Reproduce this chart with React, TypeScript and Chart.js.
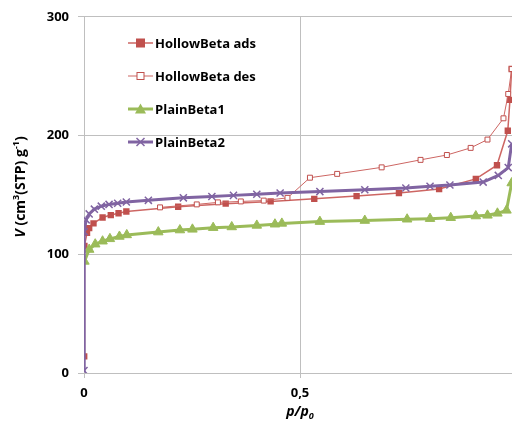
import React, { useEffect, useRef } from 'react';
import { Chart, registerables } from 'chart.js';

Chart.register(...registerables);

// p/p0 and V values
const adsP = [0.0005, 0.001, 0.007, 0.012, 0.022, 0.043, 0.062, 0.080, 0.098, 0.218, 0.328, 0.432, 0.533, 0.631, 0.729, 0.822, 0.907, 0.956, 0.981, 0.986, 0.990];
const adsV = [14, 107, 118, 122, 126, 131, 133, 134.5, 136, 140, 142.6, 144.5, 146.7, 149, 151.5, 155, 163.5, 175, 204, 230, 256];

const desP = [0.990, 0.982, 0.971, 0.934, 0.895, 0.840, 0.779, 0.689, 0.586, 0.523, 0.471, 0.416, 0.363, 0.310, 0.261, 0.176];
const desV = [256, 235, 214.5, 196.6, 189.6, 183.6, 179.5, 173.2, 167.7, 164.5, 147.5, 145.2, 144.5, 143.7, 142, 139.5];

const pb1P = [0.001, 0.012, 0.026, 0.043, 0.060, 0.082, 0.099, 0.172, 0.222, 0.251, 0.299, 0.342, 0.400, 0.442, 0.458, 0.546, 0.650, 0.748, 0.801, 0.849, 0.907, 0.934, 0.957, 0.978, 0.990];
const pb1V = [94, 104, 108.5, 111, 113, 115, 116.3, 118.7, 120.4, 121, 122.4, 123, 124.3, 125.3, 126, 127.5, 128.4, 129.5, 130, 130.8, 132.2, 132.8, 134.5, 137, 160];

const pb2P = [0.0, 0.0005, 0.005, 0.012, 0.024, 0.040, 0.058, 0.078, 0.098, 0.149, 0.230, 0.296, 0.346, 0.400, 0.454, 0.546, 0.650, 0.745, 0.801, 0.847, 0.924, 0.959, 0.982, 0.990];
const pb2V = [2, 119, 129, 134, 138, 140.5, 142, 143, 144, 145.4, 147.5, 148.7, 149.6, 150.5, 151.6, 152.8, 154.3, 155.8, 157.3, 158.3, 160.8, 166.4, 173, 193];

const seriesNames = ['HollowBeta ads', 'HollowBeta des', 'PlainBeta1', 'PlainBeta2'];
const xTickLabels: Record<string, string> = { '0': '0', '0.5': '0,5', '1': '1' };

const RED = '#C0504D';
const RED_LINE = '#CD6663';
const GREEN = '#9BBB59';
const PURPLE = '#8064A2';
const GRID = '#BFBFBF';
const FONT = '"Open Sans", sans-serif';

const W = 540;
const H = 430;

function pts(xs: number[], ys: number[]) {
  return xs.map((x, i) => ({ x, y: ys[i] }));
}

const overlay = {
  id: 'overlay',
  afterDraw(chart: any) {
    const ctx: CanvasRenderingContext2D = chart.ctx;
    const area = chart.chartArea;
    ctx.save();
    ctx.fillStyle = '#000';
    ctx.textBaseline = 'alphabetic';

    // Y axis title (rotated)
    const ySegs = [
      { t: 'V', f: `italic bold 14px ${FONT}`, dy: 0 },
      { t: ' (cm', f: `bold 14px ${FONT}`, dy: 0 },
      { t: '3', f: `bold 9px ${FONT}`, dy: -6 },
      { t: '(STP) g', f: `bold 14px ${FONT}`, dy: 0 },
      { t: '-1', f: `bold 9px ${FONT}`, dy: -6 },
      { t: ')', f: `bold 14px ${FONT}`, dy: 0 },
    ];
    let total = 0;
    ySegs.forEach((s) => { ctx.font = s.f; total += ctx.measureText(s.t).width; });
    ctx.save();
    ctx.translate(25, (area.top + area.bottom) / 2 - 8);
    ctx.rotate(-Math.PI / 2);
    let x = -total / 2;
    ySegs.forEach((s) => {
      ctx.font = s.f;
      ctx.fillText(s.t, x, s.dy);
      x += ctx.measureText(s.t).width;
    });
    ctx.restore();

    // X axis title
    const xSegs = [
      { t: 'p/p', f: `italic bold 14px ${FONT}`, dy: 0 },
      { t: '0', f: `italic bold 9px ${FONT}`, dy: 3 },
    ];
    total = 0;
    xSegs.forEach((s) => { ctx.font = s.f; total += ctx.measureText(s.t).width; });
    x = chart.scales.x.getPixelForValue(0.5) - total / 2;
    xSegs.forEach((s) => {
      ctx.font = s.f;
      ctx.fillText(s.t, x, 416 + s.dy);
      x += ctx.measureText(s.t).width;
    });

    // Legend
    const rows = [43, 76, 109, 142];
    const x0 = 128, x1 = 153, mx = 140.5;
    rows.forEach((y, i) => {
      ctx.save();
      if (i === 0) { ctx.strokeStyle = RED_LINE; ctx.lineWidth = 1.5; }
      if (i === 1) { ctx.strokeStyle = RED_LINE; ctx.lineWidth = 1; }
      if (i === 2) { ctx.strokeStyle = GREEN; ctx.lineWidth = 3; }
      if (i === 3) { ctx.strokeStyle = PURPLE; ctx.lineWidth = 3; }
      ctx.beginPath();
      ctx.moveTo(x0, y);
      ctx.lineTo(x1, y);
      ctx.stroke();
      if (i === 0) {
        ctx.fillStyle = RED;
        ctx.fillRect(mx - 4.5, y - 4.5, 9, 9);
      } else if (i === 1) {
        ctx.fillStyle = '#fff';
        ctx.fillRect(mx - 3.5, y - 3.5, 7, 7);
        ctx.strokeStyle = RED;
        ctx.lineWidth = 1;
        ctx.strokeRect(mx - 3.5, y - 3.5, 7, 7);
      } else if (i === 2) {
        ctx.fillStyle = GREEN;
        ctx.beginPath();
        ctx.moveTo(mx, y - 5.5);
        ctx.lineTo(mx + 5.5, y + 4.5);
        ctx.lineTo(mx - 5.5, y + 4.5);
        ctx.closePath();
        ctx.fill();
      } else {
        ctx.strokeStyle = PURPLE;
        ctx.lineWidth = 1.5;
        ctx.beginPath();
        ctx.moveTo(mx - 4, y - 4); ctx.lineTo(mx + 4, y + 4);
        ctx.moveTo(mx + 4, y - 4); ctx.lineTo(mx - 4, y + 4);
        ctx.stroke();
      }
      ctx.fillStyle = '#000';
      ctx.font = `bold 13px ${FONT}`;
      ctx.textBaseline = 'middle';
      ctx.fillText(seriesNames[i], x1 + 2, y + 1);
      ctx.restore();
    });
    ctx.restore();
  },
};

export default function App() {
  const ref = useRef<HTMLCanvasElement>(null);
  useEffect(() => {
    const canvas = ref.current;
    if (!canvas) return;
    const chart = new Chart(canvas, {
      type: 'scatter',
      data: {
        datasets: [
          {
            label: seriesNames[0], data: pts(adsP, adsV), showLine: true,
            borderColor: RED_LINE, borderWidth: 1.5, backgroundColor: RED,
            pointStyle: 'rect', pointRadius: 4.5, pointBackgroundColor: RED, pointBorderColor: RED, pointBorderWidth: 0,
            order: 4,
          },
          {
            label: seriesNames[1], data: pts(desP, desV), showLine: true,
            borderColor: RED_LINE, borderWidth: 1, backgroundColor: '#fff',
            pointStyle: 'rect', pointRadius: 3.5, pointBackgroundColor: '#fff', pointBorderColor: RED, pointBorderWidth: 1,
            order: 3,
          },
          {
            label: seriesNames[2], data: pts(pb1P, pb1V), showLine: true,
            borderColor: GREEN, borderWidth: 3, backgroundColor: GREEN,
            pointStyle: 'triangle', pointRadius: 5.5, pointBackgroundColor: GREEN, pointBorderColor: GREEN, pointBorderWidth: 1,
            order: 2,
          },
          {
            label: seriesNames[3], data: pts(pb2P, pb2V), showLine: true,
            borderColor: PURPLE, borderWidth: 3, backgroundColor: PURPLE,
            pointStyle: 'crossRot', pointRadius: 5, pointBackgroundColor: PURPLE, pointBorderColor: PURPLE, pointBorderWidth: 1.5,
            order: 1,
          },
        ],
      },
      options: {
        responsive: false,
        animation: false,
        layout: { padding: { left: 0, top: 16, right: W - 516, bottom: 0 } },
        plugins: { legend: { display: false }, tooltip: { enabled: false } },
        scales: {
          x: {
            type: 'linear', min: 0, max: 1,
            ticks: {
              stepSize: 0.5, maxRotation: 0, padding: 7, color: '#000',
              font: { family: FONT, size: 13, weight: 'bold' },
              callback: (v: any) => xTickLabels[String(v)] ?? '',
            },
            grid: { color: GRID, lineWidth: 1, tickLength: 5, drawTicks: true },
            border: { color: GRID, width: 1 },
            afterFit: (s: any) => { s.height = H - 373; },
          },
          y: {
            type: 'linear', min: 0, max: 300,
            ticks: {
              stepSize: 100, padding: 9, color: '#000',
              font: { family: FONT, size: 13, weight: 'bold' },
            },
            grid: { color: GRID, lineWidth: 1, tickLength: 6, drawTicks: true },
            border: { color: GRID, width: 1 },
            afterFit: (s: any) => { s.width = 84; },
          },
        },
      },
      plugins: [overlay],
    } as any);
    return () => chart.destroy();
  }, []);

  return (
    <div style={{ position: 'fixed', left: 0, top: 0, width: 512, height: 430, overflow: 'hidden', background: '#fff' }}>
      <canvas ref={ref} width={W} height={H} style={{ display: 'block', width: W, height: H }} />
    </div>
  );
}
